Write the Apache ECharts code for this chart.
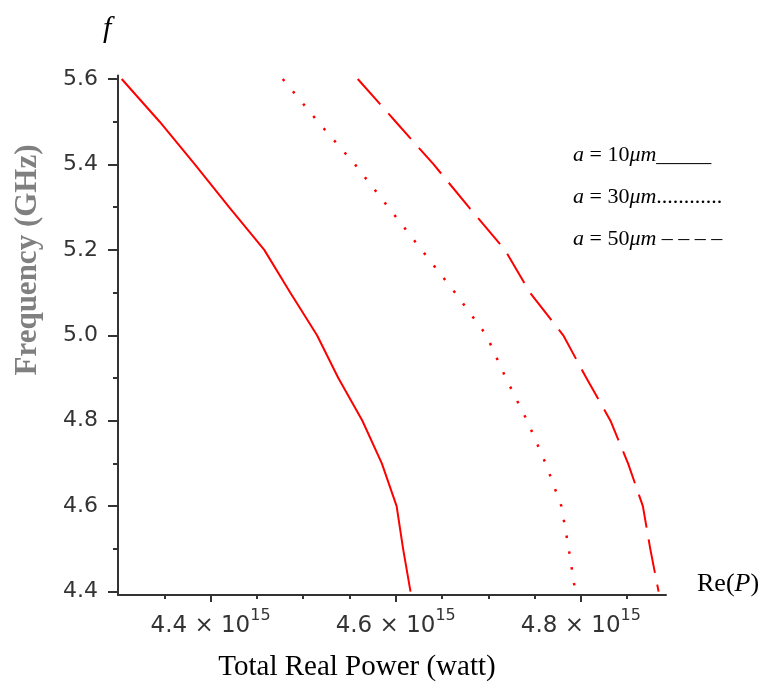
<!DOCTYPE html>
<html>
<head>
<meta charset="utf-8">
<title>Total Real Power vs Frequency</title>
<script src="https://cdn.jsdelivr.net/npm/echarts@6/dist/echarts.min.js"></script>
<style>
  html, body { margin: 0; padding: 0; background: #fff; }
  #chart { width: 768px; height: 688px; }
</style>
</head>
<body>
<div id="chart"></div>
<script>
// Frequency samples (GHz)
const freq = [5.6, 5.5, 5.4, 5.3, 5.2, 5.1, 5.0, 4.9, 4.8, 4.7, 4.6, 4.5, 4.4];
// Total real power, in units of 10^15 W, for each radius a
const power10 = [4.304, 4.345, 4.383, 4.420, 4.458, 4.486, 4.515, 4.538, 4.564, 4.585, 4.601, 4.608, 4.616];
const power30 = [4.478, 4.516, 4.556, 4.592, 4.628, 4.664, 4.698, 4.719, 4.742, 4.762, 4.779, 4.787, 4.794];
const power50 = [4.559, 4.600, 4.641, 4.679, 4.718, 4.745, 4.781, 4.806, 4.832, 4.851, 4.867, 4.875, 4.884];

// Tick positions
const xMajorTicks = [4.4, 4.6, 4.8];
const xMinorTicks = [4.35, 4.45, 4.5, 4.55, 4.65, 4.7, 4.75, 4.85];
const yMajorTicks = [4.4, 4.6, 4.8, 5.0, 5.2, 5.4, 5.6];
const yMinorTicks = [4.5, 4.7, 4.9, 5.1, 5.3, 5.5];

const pairs = (xs) => xs.map((x, i) => [x, freq[i]]);

const AXIS = '#333';
const serif = '"Liberation Serif", "Times New Roman", serif';
const sans = '"DejaVu Sans", sans-serif';

const chart = echarts.init(document.getElementById('chart'), null, { renderer: 'canvas' });

const xBase = { type: 'value', min: 4.3, max: 4.892, position: 'bottom', splitLine: { show: false } };
const yBase = { type: 'value', min: 4.392, max: 5.608, position: 'left', splitLine: { show: false } };

chart.setOption({
  animation: false,
  backgroundColor: '#fff',
  grid: { left: 118, right: 102, top: 75.6, bottom: 93, containLabel: false },
  xAxis: [
    Object.assign({}, xBase, {
      axisLine: { show: true, lineStyle: { color: AXIS, width: 2 } },
      axisTick: { show: true, customValues: xMajorTicks, length: 7, lineStyle: { color: AXIS, width: 2 } },
      axisLabel: {
        show: true,
        customValues: xMajorTicks,
        margin: 13,
        formatter: (v) => '{m|' + v.toFixed(1) + ' × 10}{s|15}',
        rich: {
          m: { fontFamily: sans, fontSize: 23, color: AXIS, lineHeight: 30, verticalAlign: 'bottom' },
          s: { fontFamily: sans, fontSize: 16, color: AXIS, lineHeight: 18, verticalAlign: 'top' }
        }
      }
    }),
    Object.assign({}, xBase, {
      axisLine: { show: false },
      axisTick: { show: true, customValues: xMinorTicks, length: 4, lineStyle: { color: AXIS, width: 2 } },
      axisLabel: { show: false }
    })
  ],
  yAxis: [
    Object.assign({}, yBase, {
      axisLine: { show: true, lineStyle: { color: AXIS, width: 2 } },
      axisTick: { show: true, customValues: yMajorTicks, length: 10, lineStyle: { color: AXIS, width: 2 } },
      axisLabel: {
        show: true,
        customValues: yMajorTicks,
        margin: 20,
        fontFamily: sans,
        fontSize: 22,
        color: AXIS,
        formatter: (v) => v.toFixed(1)
      }
    }),
    Object.assign({}, yBase, {
      axisLine: { show: false },
      axisTick: { show: true, customValues: yMinorTicks, length: 5, lineStyle: { color: AXIS, width: 2 } },
      axisLabel: { show: false }
    })
  ],
  series: [
    {
      name: 'a = 10 μm', type: 'line', xAxisIndex: 0, yAxisIndex: 0,
      data: pairs(power10), showSymbol: false, smooth: false,
      lineStyle: { color: '#ff0000', width: 2, type: 'solid' }
    },
    {
      name: 'a = 30 μm', type: 'line', xAxisIndex: 0, yAxisIndex: 0,
      data: pairs(power30), showSymbol: false, smooth: false,
      lineStyle: { color: '#ff0000', width: 2.5, type: [2.5, 13.5] }
    },
    {
      name: 'a = 50 μm', type: 'line', xAxisIndex: 0, yAxisIndex: 0,
      data: pairs(power50), showSymbol: false, smooth: false,
      lineStyle: { color: '#ff0000', width: 2, type: [34, 12] }
    }
  ],
  graphic: [
    // vertical axis symbol
    { type: 'text', left: 103, top: 14,
      style: { text: 'f', font: 'italic 30px ' + serif, fill: '#000' } },
    // horizontal axis symbol
    { type: 'text', x: 697, y: 584,
      style: { text: '{n|Re(}{i|P}{n|)}', verticalAlign: 'middle',
        rich: { n: { font: '26px ' + serif, fill: '#000' }, i: { font: 'italic 26px ' + serif, fill: '#000' } } } },
    // axis titles
    { type: 'text', x: 357, y: 667,
      style: { text: 'Total Real Power (watt)', font: '29px ' + serif, fill: '#000', align: 'center', verticalAlign: 'middle' } },
    { type: 'text', x: 28, y: 260, rotation: Math.PI / 2,
      style: { text: 'Frequency (GHz)', font: 'bold 31px ' + serif, fill: '#808080', align: 'center', verticalAlign: 'middle' } },
    // line-style key
    { type: 'text', x: 573, y: 155,
      style: { text: '{i|a} = 10{i|μm}_____', verticalAlign: 'middle',
        rich: { i: { font: 'italic 22px ' + serif, fill: '#000' } }, font: '22px ' + serif, fill: '#000' } },
    { type: 'text', x: 573, y: 197,
      style: { text: '{i|a} = 30{i|μm}............', verticalAlign: 'middle',
        rich: { i: { font: 'italic 22px ' + serif, fill: '#000' } }, font: '22px ' + serif, fill: '#000' } },
    { type: 'text', x: 573, y: 239,
      style: { text: '{i|a} = 50{i|μm} – – – –', verticalAlign: 'middle',
        rich: { i: { font: 'italic 22px ' + serif, fill: '#000' } }, font: '22px ' + serif, fill: '#000' } }
  ]
});
</script>
</body>
</html>
